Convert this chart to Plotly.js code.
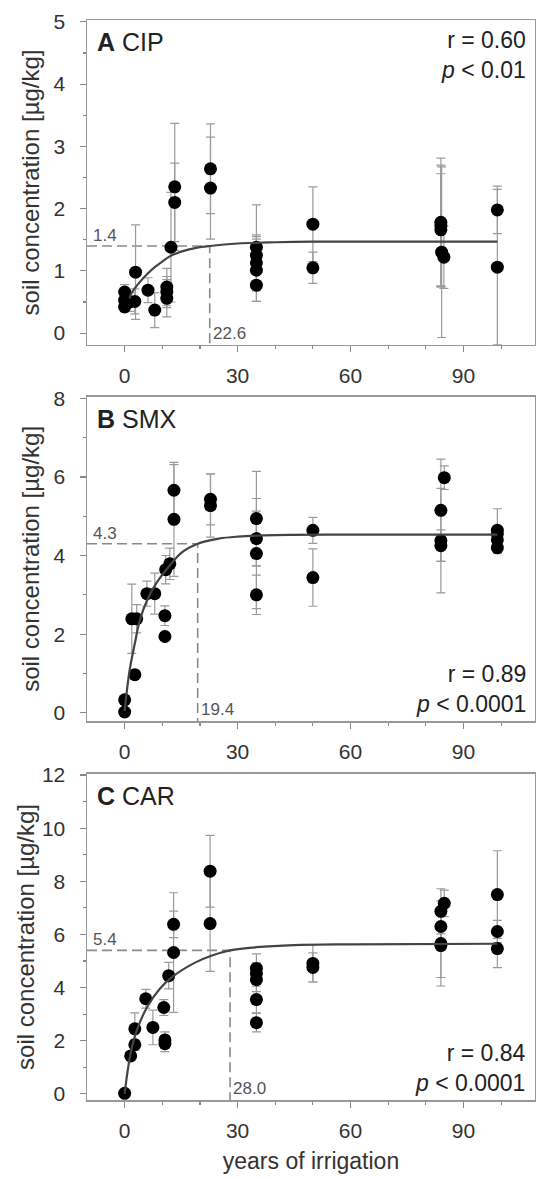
<!DOCTYPE html>
<html>
<head>
<meta charset="utf-8">
<script src="https://cdn.plot.ly/plotly-3.0.1.min.js"></script>
<style>html,body{margin:0;padding:0;background:#fff;}#chart{width:536px;height:1179px;}</style>
</head>
<body>
<div id="chart"></div>
<script>
// ---------- data ----------
const panelNames = ["CIP", "SMX", "CAR"];
const panelLetters = ["A", "B", "C"];
const rValues = ["0.60", "0.89", "0.84"];
const pValues = ["0.01", "0.0001", "0.0001"];
const refConc = [1.4, 4.3, 5.4];      // dashed horizontal reference
const refYears = [22.6, 19.4, 28.0];  // dashed vertical reference
const xTicks = [0, 30, 60, 90];

// A: CIP
const A_years = [0,0,0,1.3,2.7,2.9,6.2,8,11.2,11.2,11.2,12.3,13.3,13.3,22.8,22.8,35,35,35,35,35,50,50,84,84,84,84.2,84.8,99,99];
const A_conc  = [0.66,0.53,0.42,0.50,0.51,0.98,0.69,0.37,0.74,0.66,0.56,1.38,2.35,2.10,2.64,2.33,1.38,1.25,1.13,1.01,0.77,1.75,1.05,1.78,1.72,1.66,1.30,1.22,1.98,1.06];
const A_err   = [0.12,0.10,0.08,0.15,0.20,0.76,0.20,0.28,0.30,0.25,0.30,0.88,1.02,0.63,0.72,0.82,0.68,0.30,0.45,0.50,0.26,0.60,0.25,1.03,0.98,0.90,1.37,0.50,0.38,1.25];
const A_fitYears = [1.3,2,4,6,8,10,12.5,15,19,22.6,30,40,50,70,99];
const A_fitConc  = [0.56,0.66,0.82,0.95,1.06,1.15,1.25,1.31,1.37,1.40,1.44,1.46,1.47,1.47,1.47];

// B: SMX
const B_years = [0,0,1.9,3.2,2.7,5.9,8,10.7,10.7,10.9,12,13.1,13.1,22.8,22.8,35,35,35,35,50,50,84,84.9,84,84,99,99,99,99];
const B_conc  = [0.33,0.02,2.39,2.39,0.97,3.03,3.03,2.47,1.94,3.64,3.79,5.66,4.92,5.43,5.27,4.94,4.43,4.05,3.00,4.64,3.44,5.15,5.98,4.38,4.25,4.64,4.55,4.40,4.20];
const B_err   = [0.10,0.05,0.88,0.36,0.10,0.32,0.52,0.25,0.10,0.36,0.40,0.65,1.45,0.65,0.80,1.20,0.70,1.40,0.50,0.33,0.73,1.30,0.30,1.33,0.40,0.55,0.20,0.20,0.15];
const B_fitYears = [0,1.3,2.7,4,5.9,8.5,11.5,15.2,19.4,25,30,40,60,99];
const B_fitConc  = [0.05,1.07,1.76,2.34,2.85,3.31,3.69,4.08,4.30,4.43,4.48,4.52,4.53,4.53];

// C: CAR
const C_years = [0,1.6,2.7,2.7,5.6,7.5,10.4,10.7,10.7,11.7,13,13,22.7,22.7,35,35,35,35,35,50,50,84,84,84,84,84.9,99,99,99];
const C_conc  = [0.02,1.43,1.85,2.45,3.58,2.50,3.25,2.03,1.89,4.45,6.38,5.32,8.38,6.41,4.72,4.53,4.30,3.55,2.68,4.91,4.76,5.66,5.58,6.30,6.87,7.17,7.50,6.11,5.47];
const C_err   = [0.05,0.15,0.20,0.60,0.35,0.65,0.30,0.30,0.30,0.50,0.50,2.25,1.35,1.80,0.55,0.40,0.45,0.50,0.35,0.70,0.55,1.60,1.20,0.60,0.85,0.50,1.65,0.42,0.72];
const C_fitYears = [0,0.8,1.9,3.5,6.1,9.3,12.8,18.7,23,28,35,45,60,99];
const C_fitConc  = [0,0.87,1.74,2.50,3.3,3.95,4.42,4.94,5.2,5.4,5.52,5.6,5.63,5.65];

// ---------- chart ----------
const panels = [
  {years:A_years, conc:A_conc, err:A_err, fx:A_fitYears, fy:A_fitConc, yr:[-0.19,5.03], ytv:[0,1,2,3,4,5], ymin:[0.5,1.5,2.5,3.5,4.5], dom:[0.6991,1], stand:7},
  {years:B_years, conc:B_conc, err:B_err, fx:B_fitYears, fy:B_fitConc, yr:[-0.21,8.04], ytv:[0,2,4,6,8], ymin:[1,3,5,7], dom:[0.3509,0.6512], stand:7},
  {years:C_years, conc:C_conc, err:C_err, fx:C_fitYears, fy:C_fitConc, yr:[-0.23,12.04], ytv:[0,2,4,6,8,10,12], ymin:[1,3,5,7,9,11], dom:[0,0.3019], stand:0}
];
const xRange = [-10, 109];
const FONT = "Liberation Sans, Arial, sans-serif";
const traces = [];
const layout = {
  width:536, height:1179,
  margin:{l:87, r:1, t:20, b:79},
  paper_bgcolor:"#fff", plot_bgcolor:"#fff",
  showlegend:false,
  font:{family:FONT, color:"#333"},
  annotations:[]
};

panels.forEach((p, i) => {
  const n = i === 0 ? "" : String(i + 1);
  const xa = "x" + n, ya = "y" + n;
  // dashed reference lines
  traces.push({x:[xRange[0], refYears[i], refYears[i]], y:[refConc[i], refConc[i], p.yr[0]],
    xaxis:xa, yaxis:ya, mode:"lines", line:{color:"#8a8a8a", width:1.6, dash:"10px,5px"}, hoverinfo:"skip"});
  // points with error bars
  traces.push({x:p.years, y:p.conc, xaxis:xa, yaxis:ya, mode:"markers", type:"scatter",
    marker:{color:"#000", size:13},
    error_y:{type:"data", array:p.err, visible:true, color:"#9a9a9a", thickness:1.2, width:4.5}});
  // fitted curve
  traces.push({x:p.fx, y:p.fy, xaxis:xa, yaxis:ya, mode:"lines", line:{color:"#444", width:2.2, shape:"spline"}, hoverinfo:"skip"});

  layout["xaxis" + n] = {
    anchor:ya, domain:[0,1], range:xRange, tickmode:"array", tickvals:xTicks,
    ticks:"outside", ticklen:6, tickwidth:1.2, tickcolor:"#888",
    minor:{tickmode:"array", tickvals:[10,20,40,50,70,80,100], ticks:"outside", ticklen:3, tickcolor:"#888"},
    showline:true, linecolor:"#999", linewidth:1.5, mirror:true,
    showgrid:false, zeroline:false, ticklabelstandoff:5,
    tickfont:{size:21, color:"#333", family:FONT},
    title: i === 2 ? {text:"years of irrigation", font:{size:23, color:"#333", family:FONT}, standoff:12} : {text:""}
  };
  layout["yaxis" + n] = {
    anchor:xa, domain:p.dom, range:p.yr, tickmode:"array", tickvals:p.ytv,
    ticks:"outside", ticklen:6, tickwidth:1.2, tickcolor:"#888",
    minor:{tickmode:"array", tickvals:p.ymin, ticks:"outside", ticklen:3, tickcolor:"#888"},
    showline:true, linecolor:"#999", linewidth:1.5, mirror:true,
    showgrid:false, zeroline:false, ticklabelstandoff:10,
    tickfont:{size:21, color:"#333", family:FONT},
    title:{text:"soil concentration [µg/kg]", font:{size:24, color:"#333", family:FONT}, standoff:p.stand}
  };
  // panel label
  layout.annotations.push({xref:xa + " domain", yref:ya + " domain", x:0.018, y:0.98, xanchor:"left", yanchor:"top",
    text:"<b>" + panelLetters[i] + "</b> " + panelNames[i], showarrow:false, font:{size:25, color:"#222", family:FONT}});
  // statistics
  const statText = "r = " + rValues[i] + "<br><i>p</i> &lt; " + pValues[i];
  if (i === 0) {
    layout.annotations.push({xref:xa + " domain", yref:ya + " domain", x:0.985, y:0.985, xanchor:"right", yanchor:"top", align:"right",
      text:statText, showarrow:false, font:{size:23, color:"#222", family:FONT}});
  } else {
    layout.annotations.push({xref:xa + " domain", yref:ya + " domain", x:0.985, y:0.005, xanchor:"right", yanchor:"bottom", align:"right",
      text:statText, showarrow:false, font:{size:23, color:"#222", family:FONT}});
  }
  // reference value labels
  layout.annotations.push({xref:xa, yref:ya, x:xRange[0], y:refConc[i], xanchor:"left", yanchor:"bottom", xshift:4, yshift:-1,
    text:refConc[i].toFixed(1), showarrow:false, font:{size:17, color:"#555", family:FONT}});
  layout.annotations.push({xref:xa, yref:ya, x:refYears[i], y:p.yr[0], xanchor:"left", yanchor:"bottom", xshift:1, yshift:0,
    text:refYears[i].toFixed(1), showarrow:false, font:{size:17, color:"#555", family:FONT}});
});

Plotly.newPlot("chart", traces, layout, {displayModeBar:false, staticPlot:true});
</script>
</body>
</html>
